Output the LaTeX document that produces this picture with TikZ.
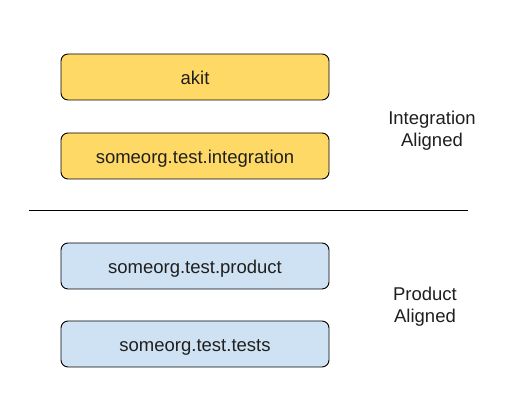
\documentclass[tikz,border=0pt]{standalone}
\usepackage{fontspec}
\setmainfont{Liberation Sans}
\definecolor{boxyellow}{HTML}{FFD966}
\definecolor{boxblue}{HTML}{CFE2F3}
\definecolor{txt}{HTML}{1F1F1F}
\begin{document}
\begin{tikzpicture}[x=1pt,y=1pt,
  box/.style={draw=black, line width=0.9pt, rounded corners=7pt, minimum width=268pt, minimum height=46pt, inner sep=0pt, text height=15pt, text depth=0pt, font=\fontsize{18.5}{22}\selectfont, text=txt},
  ybox/.style={box, fill=boxyellow},
  bbox/.style={box, fill=boxblue},
  lbl/.style={align=center, font=\fontsize{18.5}{22}\selectfont, text=txt}]
\useasboundingbox (0,0) rectangle (506,419);
\fill[white] (0,0) rectangle (506,419);
\node[ybox] (akit) at (195,342) {akit};
\node[ybox] (integ) at (195,263) {someorg.test.integration};
\node[bbox] (prod) at (195,153) {someorg.test.product};
\node[bbox] (tests) at (195,75) {someorg.test.tests};
\node[lbl] (ia) at (432,288) {Integration\\Aligned};
\node[lbl] (pa) at (425,112) {Product\\Aligned};
\coordinate (l1) at (29,208);
\coordinate (l2) at (468,208);
\draw[line width=1pt] (l1) -- (l2);
\end{tikzpicture}
\end{document}
